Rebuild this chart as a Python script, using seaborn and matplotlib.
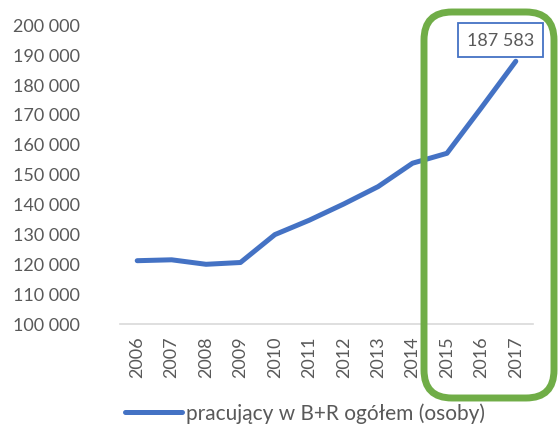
import matplotlib
matplotlib.use("Agg")
import matplotlib.pyplot as plt
from matplotlib.patches import FancyBboxPatch
from matplotlib.transforms import IdentityTransform
import seaborn as sns
import pandas as pd

# --- Data ---
years = ["2006", "2007", "2008", "2009", "2010", "2011",
         "2012", "2013", "2014", "2015", "2016", "2017"]
employed = [121100, 121400, 119900, 120500, 129800, 134600,
            140000, 145800, 153600, 156900, 172100, 187583]
series_name = "pracujący w B+R ogółem (osoby)"
y_ticks = list(range(100000, 200001, 10000))

df = pd.DataFrame({"rok": years, "osoby": employed})

# --- Style ---
sns.set_theme(style="white")
plt.rcParams["font.family"] = ["Lato", "DejaVu Sans"]
text_gray = "#595959"
blue = "#4472C4"
green = "#70AD47"

fig = plt.figure(figsize=(5.58, 4.27), dpi=100)
ax = fig.add_axes([120 / 558, 1 - 325 / 427, 413 / 558, 300 / 427])

sns.lineplot(data=df, x="rok", y="osoby", ax=ax, color=blue, linewidth=3.6,
             label=series_name, solid_capstyle="round", solid_joinstyle="round",
             sort=False)

ax.set_xlim(-0.5, len(years) - 0.5)
ax.set_ylim(100000, 200000)
ax.set_yticks(y_ticks)
ax.set_yticklabels([f"{v:,}".replace(",", " ") for v in y_ticks])
ax.set_xlabel("")
ax.set_ylabel("")

for side in ["top", "right", "left"]:
    ax.spines[side].set_visible(False)
ax.spines["bottom"].set_color("#d9d9d9")
ax.spines["bottom"].set_linewidth(1.2)

ax.tick_params(axis="y", length=0, pad=29, labelsize=13, labelcolor=text_gray)
ax.tick_params(axis="x", length=0, pad=8, labelsize=13, labelcolor=text_gray,
               labelrotation=90)

# data label for the last point
ax.annotate(f"{employed[-1]:,}".replace(",", " "),
            xy=(len(years) - 1, employed[-1]), xytext=(-11, 15),
            textcoords="offset points", ha="center", va="center",
            fontsize=13, color=text_gray,
            bbox=dict(boxstyle="square,pad=0.5", fc="white", ec=blue, lw=1.3))

# legend below the plot
ax.legend(loc="center", bbox_to_anchor=(305 / 558, 1 - 414 / 427),
          bbox_transform=fig.transFigure, frameon=False, fontsize=15,
          handlelength=2.75, handletextpad=0.2, labelcolor=text_gray)

# green highlight frame around 2015-2017
frame = FancyBboxPatch((424, 28), 130, 386,
                       boxstyle="round,pad=0,rounding_size=28",
                       transform=IdentityTransform(), fill=False,
                       ec=green, lw=5, zorder=10)
fig.add_artist(frame)

fig.savefig("out.png", dpi=100, facecolor="white")
